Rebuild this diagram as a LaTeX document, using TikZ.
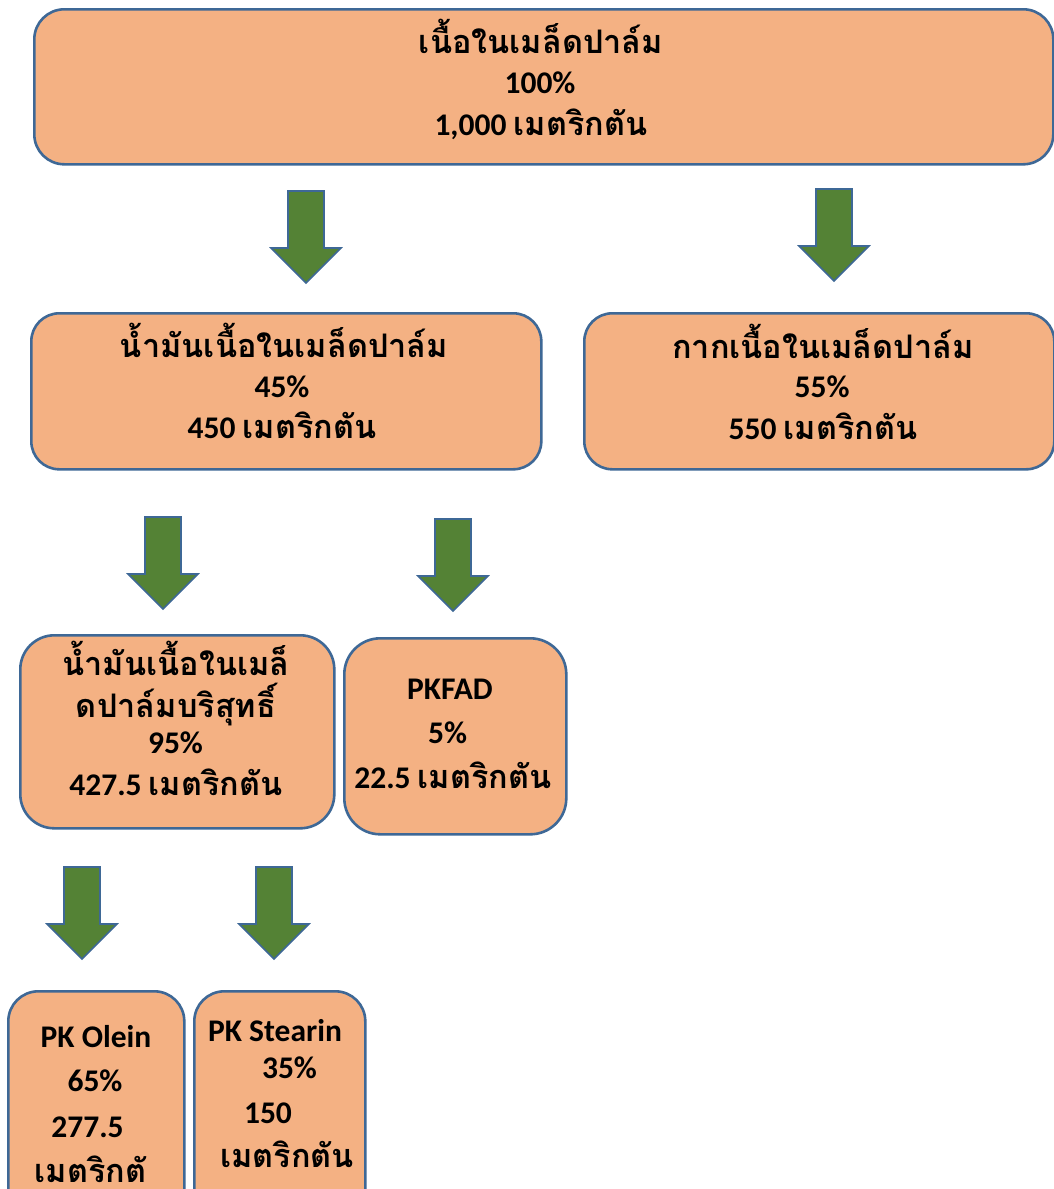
\documentclass[tikz,border=0pt]{standalone}
\usepackage{fontspec}
\setmainfont{Carlito}
\newfontfamily\thfont[Script=Thai,Scale=1.03]{Loma}
\newcommand{\thx}[1]{{\thfont #1}}
\definecolor{peach}{RGB}{244,177,131}
\definecolor{bordblue}{RGB}{62,104,150}
\definecolor{arrgreen}{RGB}{84,130,53}
\begin{document}
\begin{tikzpicture}[x=1pt,y=-1pt,
  box/.style={draw=bordblue, line width=2.6pt, fill=peach, rounded corners=#1, inner sep=0pt, anchor=north west},
  box/.default=30pt,
  txt/.style={anchor=base, inner sep=0pt, font=\bfseries\fontsize{31.5}{34}\selectfont},
  garrow/.style={draw=bordblue, line width=1.6pt, fill=arrgreen, line join=miter}]
\useasboundingbox (0,0) rectangle (1054,1189);
\clip (0,0) rectangle (1054,1189);
\fill[white] (0,0) rectangle (1054,1189);
\newcommand{\greenarrow}[3]{%
  \draw[garrow] (#1-18,#2) -- (#1+18,#2) -- (#1+18,#2+57) -- (#1+35,#2+57)
     -- (#1,#2+92) -- (#1-35,#2+57) -- (#1-18,#2+57) -- cycle;}
% boxes
\node[box=30pt, minimum width=1019pt, minimum height=155pt] (b1) at (33,8) {};
\node[box=28pt, minimum width=510pt, minimum height=156pt] (b2) at (30,312) {};
\node[box=28pt, minimum width=470pt, minimum height=156pt] (b3) at (583,312) {};
\node[box=34pt, minimum width=314pt, minimum height=193pt] (b4) at (19,634) {};
\node[box=36pt, minimum width=222pt, minimum height=196pt] (b5) at (343,637) {};
\node[box=30pt, minimum width=176pt, minimum height=230pt] (b6) at (7,990) {};
\node[box=30pt, minimum width=171pt, minimum height=230pt] (b7) at (193,990) {};
% arrows
\greenarrow{306}{191}{a1}
\greenarrow{834}{189}{a2}
\greenarrow{163}{517}{a3}
\greenarrow{453}{519}{a4}
\greenarrow{82}{867}{a5}
\greenarrow{274}{867}{a6}
% texts
\node[txt] (t1a) at (541,53) {\thx{เนื้อในเมล็ดปาล์ม}};
\node[txt] (t1b) at (540,93) {100\%};
\node[txt] (t1c) at (541,135) {1,000 \thx{เมตริกตัน}};
\node[txt] (t2a) at (284,357) {\thx{น้ำมันเนื้อในเมล็ดปาล์ม}};
\node[txt] (t2b) at (282,397) {45\%};
\node[txt] (t2c) at (282,438) {450 \thx{เมตริกตัน}};
\node[txt] (t3a) at (823,358) {\thx{กากเนื้อในเมล็ดปาล์ม}};
\node[txt] (t3b) at (822,397) {55\%};
\node[txt] (t3c) at (823,439) {550 \thx{เมตริกตัน}};
\node[txt] (t4a) at (176,675) {\thx{น้ำมันเนื้อในเมล็}};
\node[txt] (t4b) at (176,717) {\thx{ดปาล์มบริสุทธิ์}};
\node[txt] (t4c) at (175.5,753) {95\%};
\node[txt] (t4d) at (176,795) {427.5 \thx{เมตริกตัน}};
\node[txt] (t5a) at (450,699) {PKFAD};
\node[txt] (t5b) at (447.5,743) {5\%};
\node[txt] (t5c) at (453,788) {22.5 \thx{เมตริกตัน}};
\node[txt] (t6a) at (96,1047) {PK Olein};
\node[txt] (t6b) at (95,1091) {65\%};
\node[txt] (t6c) at (87.5,1137) {277.5};
\node[txt] (t6d) at (90.5,1182) {\thx{เมตริกตั}};
\node[txt] (t7a) at (275,1041) {PK Stearin};
\node[txt] (t7b) at (289.5,1078) {35\%};
\node[txt] (t7c) at (268,1123) {150};
\node[txt] (t7d) at (287,1167) {\thx{เมตริกตัน}};
\end{tikzpicture}
\end{document}
